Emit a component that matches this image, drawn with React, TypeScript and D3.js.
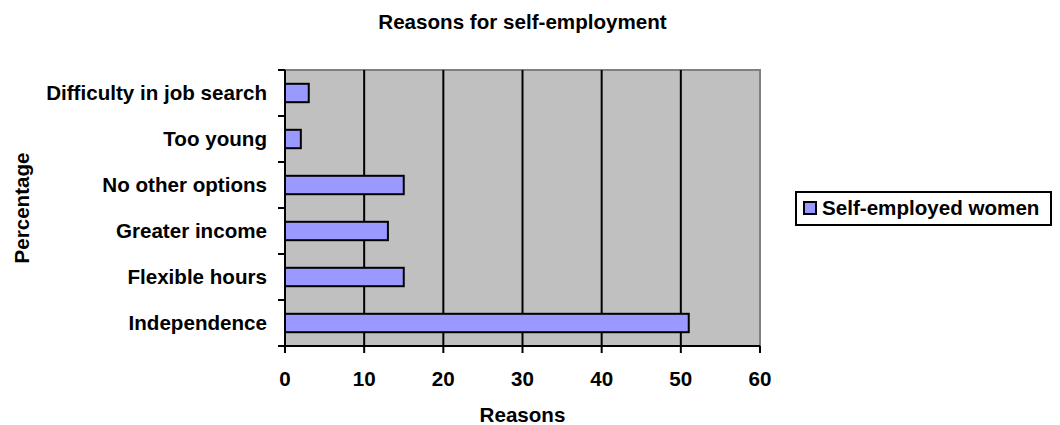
import React, { useEffect, useRef } from 'react';
import * as d3 from 'd3';

// categories top to bottom, as they appear on the chart
const categories = [
  'Difficulty in job search',
  'Too young',
  'No other options',
  'Greater income',
  'Flexible hours',
  'Independence',
];
const values = [3, 2, 15, 13, 15, 51];
const xTicks = [0, 10, 20, 30, 40, 50, 60];
const seriesName = 'Self-employed women';

const W = 1060;
const H = 425;
const FONT = '"Liberation Sans", Arial, Helvetica, sans-serif';

export default function App() {
  const svgRef = useRef<SVGSVGElement>(null);

  useEffect(() => {
    const svg = d3.select(svgRef.current);
    svg.selectAll('*').remove();

    const left = 285, right = 760, top = 70, bottom = 346; // plot area edges

    const x = d3.scaleLinear().domain([0, 60]).range([left, right]);
    const y = d3.scaleBand<string>()
      .domain(categories)
      .range([top, bottom])
      .paddingInner(0.6)
      .paddingOuter(0.3);
    const step = y.step();

    // plot background
    svg.append('rect')
      .attr('x', left).attr('y', top)
      .attr('width', right - left).attr('height', bottom - top)
      .attr('fill', '#c0c0c0');

    // top + right border in gray
    svg.append('path')
      .attr('d', `M${left},${top}H${right}V${bottom}`)
      .attr('fill', 'none')
      .attr('stroke', '#808080')
      .attr('stroke-width', 2);

    // vertical gridlines
    svg.append('g')
      .selectAll('line')
      .data(xTicks.filter(t => t > 0 && t < 60))
      .enter().append('line')
      .attr('x1', d => x(d)).attr('x2', d => x(d))
      .attr('y1', top).attr('y2', bottom)
      .attr('stroke', '#000')
      .attr('stroke-width', 2);

    // bars
    svg.append('g')
      .selectAll('rect')
      .data(categories)
      .enter().append('rect')
      .attr('x', x(0))
      .attr('y', d => y(d)!)
      .attr('width', (d, i) => x(values[i]) - x(0))
      .attr('height', y.bandwidth())
      .attr('fill', '#9999ff')
      .attr('stroke', '#000')
      .attr('stroke-width', 2);

    // x axis line + ticks
    svg.append('line')
      .attr('x1', left - 7).attr('x2', right)
      .attr('y1', bottom).attr('y2', bottom)
      .attr('stroke', '#000').attr('stroke-width', 2);
    svg.append('g')
      .selectAll('line')
      .data(xTicks)
      .enter().append('line')
      .attr('x1', d => x(d)).attr('x2', d => x(d))
      .attr('y1', bottom).attr('y2', bottom + 7)
      .attr('stroke', '#000').attr('stroke-width', 2);
    svg.append('g')
      .selectAll('text')
      .data(xTicks)
      .enter().append('text')
      .attr('x', d => x(d))
      .attr('y', 386)
      .attr('text-anchor', 'middle')
      .text(d => d);

    // y axis line + ticks at band boundaries
    svg.append('line')
      .attr('x1', left).attr('x2', left)
      .attr('y1', top).attr('y2', bottom + 7)
      .attr('stroke', '#000').attr('stroke-width', 2);
    svg.append('g')
      .selectAll('line')
      .data(d3.range(categories.length + 1))
      .enter().append('line')
      .attr('x1', left - 7).attr('x2', left)
      .attr('y1', i => top + i * step).attr('y2', i => top + i * step)
      .attr('stroke', '#000').attr('stroke-width', 2);
    svg.append('g')
      .selectAll('text')
      .data(categories)
      .enter().append('text')
      .attr('x', 267)
      .attr('y', d => y(d)! + y.bandwidth() / 2)
      .attr('dy', '0.36em')
      .attr('text-anchor', 'end')
      .text(d => d);

    // titles
    svg.append('text')
      .attr('x', (left + right) / 2).attr('y', 29)
      .attr('text-anchor', 'middle')
      .text('Reasons for self-employment');
    svg.append('text')
      .attr('x', (left + right) / 2).attr('y', 422)
      .attr('text-anchor', 'middle')
      .text('Reasons');
    svg.append('text')
      .attr('transform', `translate(29,${(top + bottom) / 2}) rotate(-90)`)
      .attr('text-anchor', 'middle')
      .text('Percentage');

    // legend
    const lg = svg.append('g');
    lg.append('rect')
      .attr('x', 796).attr('y', 192)
      .attr('width', 255).attr('height', 33)
      .attr('fill', '#fff')
      .attr('stroke', '#000').attr('stroke-width', 2);
    lg.append('rect')
      .attr('x', 804).attr('y', 202)
      .attr('width', 12).attr('height', 12)
      .attr('fill', '#9999ff')
      .attr('stroke', '#000').attr('stroke-width', 2);
    lg.append('text')
      .attr('x', 822).attr('y', 215)
      .text(seriesName);
  }, []);

  return (
    <svg
      ref={svgRef}
      width={W}
      height={H}
      fontFamily={FONT}
      fontSize={20.6}
      fontWeight="bold"
      style={{ position: 'absolute', left: 0, top: 0, background: '#fff' }}
    />
  );
}
